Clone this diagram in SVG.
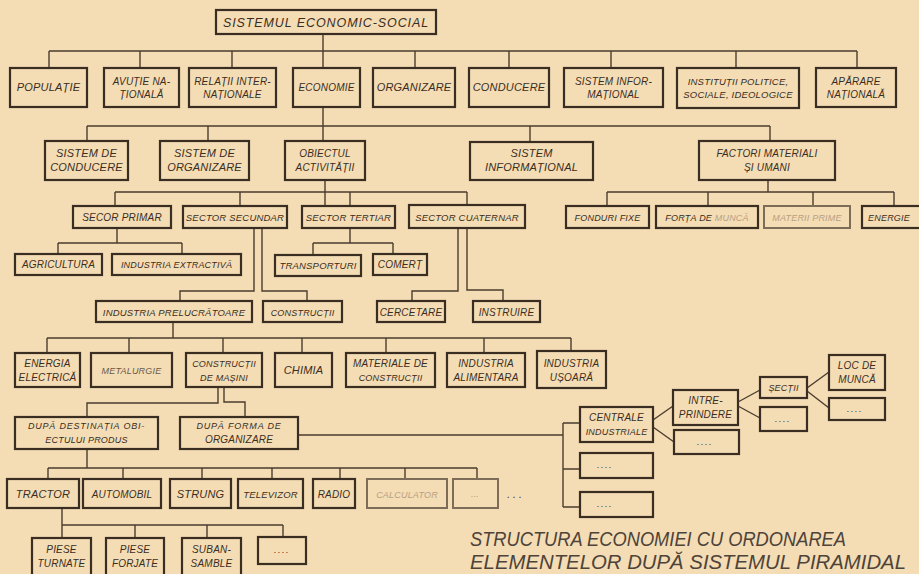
<svg xmlns="http://www.w3.org/2000/svg" width="919" height="574" viewBox="0 0 919 574">
<style>
.bg{fill:#f4dcb5}
.bx{fill:#f4dcb5;stroke:#3a2e22;stroke-width:2.2}
.fb{fill:#f4dcb5;stroke:#7d6c58;stroke-width:2}
.c{fill:none;stroke:#4a3c2e;stroke-width:1.4}
.t{font-family:"Liberation Sans",Arial,sans-serif;font-style:italic;font-size:10px;fill:#3a2e22;text-anchor:middle;letter-spacing:0.2px}
.l{font-size:11px}
.s{font-size:9px}
.m{font-size:9.5px}
.f{fill:#b7a083}
.cap{font-family:"Liberation Sans",Arial,sans-serif;font-style:italic;font-size:21px;fill:#4d4339}
</style>
<rect class="bg" x="0" y="0" width="919" height="574"/>
<g id="connectors">
<path class="c" d="M323,34V68M49,51H857M49,51V68M140,51V68M232,51V68M415,51V68M509,51V68M611,51V68M736,51V68M857,51V68"/>
<path class="c" d="M323,107V141M87,126H770M87,126V141M208,126V141M530,126V142M770,126V141"/>
<path class="c" d="M325,180V206M115,192H467M115,192V206M240,192V206M350,192V206M467,192V205"/>
<path class="c" d="M768,180V192M607,192H894M607,192V206M708,192V206M813,192V206M894,192V206"/>
<path class="c" d="M117,228V243M58,243H182M58,243V254M182,243V254"/>
<path class="c" d="M350,228V243M313,243H393M313,243V255M393,243V254"/>
<path class="c" d="M254,228V291H180V301M262,228V291H307V301"/>
<path class="c" d="M458,228V291H412V301M467,228V290H503V301"/>
<path class="c" d="M173,322V338M47,338H571M47,338V353M129,338V353M223,338V353M302,338V353M386,338V353M484,338V353M571,338V351"/>
<path class="c" d="M218,387V403H87V417M224,387V402H245V417"/>
<path class="c" d="M298,435H563M563,423V507M563,423H580M563,469H580M563,507H580"/>
<path class="c" d="M653,420L673,406M653,427L674,442M738,402L760,390M738,406L760,418M807,388L829,372M807,391L829,408"/>
<path class="c" d="M87,449V468M48,468H477M48,468V479M123,468V479M202,468V479M272,468V479M340,468V479M405,468V479M477,468V479"/>
<path class="c" d="M62,508V538M62,525H283M135,525V538M207,525V538M283,525V537"/>
</g>
<g id="n-sistemul"><rect class="bx" x="216" y="10" width="220" height="24"/><text class="t" x="326" y="27" style="font-size:12.5px;letter-spacing:0.9px">SISTEMUL ECONOMIC-SOCIAL</text></g>
<g id="n-populatie"><rect class="bx" x="10" y="68" width="77" height="39"/><text class="t l" x="48.5" y="91">POPULAȚIE</text></g>
<g id="n-avutie"><rect class="bx" x="104" y="68" width="75" height="39"/><text class="t" x="141.5" y="85">AVUȚIE NA-</text><text class="t" x="141.5" y="98">ȚIONALĂ</text></g>
<g id="n-relatii"><rect class="bx" x="189" y="68" width="87" height="39"/><text class="t" x="232.5" y="85">RELAȚII INTER-</text><text class="t" x="232.5" y="98">NAȚIONALE</text></g>
<g id="n-economie"><rect class="bx" x="293" y="68" width="67" height="39"/><text class="t" x="326.5" y="91">ECONOMIE</text></g>
<g id="n-organizare"><rect class="bx" x="373" y="68" width="82" height="39"/><text class="t l" x="414" y="91">ORGANIZARE</text></g>
<g id="n-conducere"><rect class="bx" x="469" y="68" width="80" height="39"/><text class="t l" x="509" y="91">CONDUCERE</text></g>
<g id="n-sistinfo"><rect class="bx" x="564" y="68" width="99" height="39"/><text class="t" x="613.5" y="85">SISTEM INFOR-</text><text class="t" x="613.5" y="98">MAȚIONAL</text></g>
<g id="n-institutii"><rect class="bx" x="677" y="68" width="122" height="40"/><text class="t" x="738" y="85" style="font-size:9.5px">INSTITUȚII POLITICE,</text><text class="t" x="738" y="98" style="font-size:9.5px">SOCIALE, IDEOLOGICE</text></g>
<g id="n-aparare"><rect class="bx" x="816" y="68" width="80" height="39"/><text class="t" x="856" y="85">APĂRARE</text><text class="t" x="856" y="98">NAȚIONALĂ</text></g>
<g id="n-sistcond"><rect class="bx" x="45" y="141" width="83" height="39"/><text class="t l" x="86.5" y="157">SISTEM DE</text><text class="t l" x="86.5" y="171">CONDUCERE</text></g>
<g id="n-sistorg"><rect class="bx" x="160" y="141" width="89" height="39"/><text class="t l" x="204.5" y="157">SISTEM DE</text><text class="t l" x="204.5" y="171">ORGANIZARE</text></g>
<g id="n-obiectul"><rect class="bx" x="285" y="141" width="80" height="39"/><text class="t" x="325" y="157">OBIECTUL</text><text class="t" x="325" y="171">ACTIVITĂȚII</text></g>
<g id="n-sistinf2"><rect class="bx" x="470" y="142" width="123" height="38"/><text class="t l" x="531.5" y="157">SISTEM</text><text class="t l" x="531.5" y="171">INFORMAȚIONAL</text></g>
<g id="n-factori"><rect class="bx" x="699" y="141" width="136" height="39"/><text class="t" x="767" y="157">FACTORI MATERIALI</text><text class="t" x="767" y="171">ȘI UMANI</text></g>
<g id="n-primar"><rect class="bx" x="73" y="206" width="98" height="22"/><text class="t" x="122" y="221">SECOR PRIMAR</text></g>
<g id="n-secundar"><rect class="bx" x="183" y="206" width="104" height="22"/><text class="t m" x="235" y="221">SECTOR SECUNDAR</text></g>
<g id="n-tertiar"><rect class="bx" x="302" y="206" width="93" height="22"/><text class="t m" x="348.5" y="221">SECTOR TERTIAR</text></g>
<g id="n-cuaternar"><rect class="bx" x="409" y="205" width="116" height="23"/><text class="t m" x="467" y="221">SECTOR CUATERNAR</text></g>
<g id="n-fonduri"><rect class="bx" x="566" y="206" width="83" height="22"/><text class="t s" x="607.5" y="221">FONDURI FIXE</text></g>
<g id="n-forta"><rect class="bx" x="656" y="206" width="102" height="22"/><text class="t s" x="707" y="221">FORȚA DE <tspan class="f">MUNCĂ</tspan></text></g>
<g id="n-materii"><rect class="fb" x="764" y="206" width="86" height="22"/><text class="t s f" x="807" y="221">MATERII PRIME</text></g>
<g id="n-energie"><rect class="bx" x="862" y="206" width="63" height="22"/><text class="t s" x="889" y="221">ENERGIE</text></g>
<g id="n-agricultura"><rect class="bx" x="15" y="254" width="87" height="21"/><text class="t" x="58.5" y="268">AGRICULTURA</text></g>
<g id="n-extractiva"><rect class="bx" x="112" y="254" width="129" height="21"/><text class="t s" x="176.5" y="268">INDUSTRIA EXTRACTIVĂ</text></g>
<g id="n-transporturi"><rect class="bx" x="275" y="255" width="86" height="21"/><text class="t m" x="318" y="269">TRANSPORTURI</text></g>
<g id="n-comert"><rect class="bx" x="373" y="254" width="54" height="21"/><text class="t" x="400" y="268">COMERȚ</text></g>
<g id="n-prelucratoare"><rect class="bx" x="96" y="301" width="156" height="21"/><text class="t m" x="174" y="315.5">INDUSTRIA PRELUCRĂTOARE</text></g>
<g id="n-constructii"><rect class="bx" x="263" y="301" width="79" height="21"/><text class="t s" x="302.5" y="315.5">CONSTRUCȚII</text></g>
<g id="n-cercetare"><rect class="bx" x="377" y="301" width="68" height="21"/><text class="t" x="411" y="315.5">CERCETARE</text></g>
<g id="n-instruire"><rect class="bx" x="473" y="301" width="67" height="21"/><text class="t" x="506.5" y="315.5">INSTRUIRE</text></g>
<g id="n-energia"><rect class="bx" x="15" y="353" width="65" height="34"/><text class="t" x="47.5" y="367">ENERGIA</text><text class="t" x="47.5" y="381">ELECTRICĂ</text></g>
<g id="n-metalurgie"><rect class="bx" x="91" y="353" width="81" height="34"/><text class="t s" x="131.5" y="374" style="fill:#6a5a48">METALURGIE</text></g>
<g id="n-masini"><rect class="bx" x="186" y="353" width="76" height="34"/><text class="t s" x="224" y="367">CONSTRUCȚII</text><text class="t s" x="224" y="381">DE MAȘINI</text></g>
<g id="n-chimia"><rect class="bx" x="275" y="353" width="57" height="34"/><text class="t l" x="303.5" y="374">CHIMIA</text></g>
<g id="n-materiale"><rect class="bx" x="346" y="353" width="89" height="34"/><text class="t" x="390.5" y="367">MATERIALE DE</text><text class="t s" x="390.5" y="381">CONSTRUCȚII</text></g>
<g id="n-alimentara"><rect class="bx" x="447" y="353" width="78" height="34"/><text class="t" x="486" y="367">INDUSTRIA</text><text class="t" x="486" y="381">ALIMENTARA</text></g>
<g id="n-usoara"><rect class="bx" x="537" y="351" width="69" height="37"/><text class="t" x="571.5" y="367">INDUSTRIA</text><text class="t" x="571.5" y="381">UȘOARĂ</text></g>
<g id="n-destinatia"><rect class="bx" x="15" y="417" width="143" height="32"/><text class="t s" x="86.5" y="429" style="letter-spacing:0.8px">DUPĂ DESTINAȚIA OBI-</text><text class="t s" x="86.5" y="443">ECTULUI PRODUS</text></g>
<g id="n-forma"><rect class="bx" x="180" y="417" width="118" height="32"/><text class="t s" x="239" y="429" style="letter-spacing:0.8px">DUPĂ FORMA DE</text><text class="t" x="239" y="443">ORGANIZARE</text></g>
<g id="n-tractor"><rect class="bx" x="7" y="479" width="72" height="29"/><text class="t l" x="43" y="497.5">TRACTOR</text></g>
<g id="n-automobil"><rect class="bx" x="83" y="479" width="78" height="29"/><text class="t" x="122" y="497.5">AUTOMOBIL</text></g>
<g id="n-strung"><rect class="bx" x="170" y="479" width="61" height="29"/><text class="t l" x="200.5" y="497.5">STRUNG</text></g>
<g id="n-televizor"><rect class="bx" x="238" y="479" width="65" height="29"/><text class="t m" x="270.5" y="497.5">TELEVIZOR</text></g>
<g id="n-radio"><rect class="bx" x="313" y="479" width="42" height="29"/><text class="t" x="334" y="497.5">RADIO</text></g>
<g id="n-calculator"><rect class="fb" x="367" y="479" width="80" height="29"/><text class="t s f" x="407" y="497.5">CALCULATOR</text></g>
<g id="n-dots8"><rect class="fb" x="453" y="479" width="45" height="29"/><text class="t s f" x="475" y="497">...</text></g>
<g id="n-dots8b"><text class="t" x="516" y="498" style="letter-spacing:3px">...</text></g>
<g id="n-turnate"><rect class="bx" x="32" y="538" width="59" height="42"/><text class="t" x="61.5" y="553">PIESE</text><text class="t" x="61.5" y="567">TURNATE</text></g>
<g id="n-forjate"><rect class="bx" x="106" y="538" width="58" height="42"/><text class="t" x="135" y="553">PIESE</text><text class="t" x="135" y="567">FORJATE</text></g>
<g id="n-subansamble"><rect class="bx" x="182" y="538" width="59" height="42"/><text class="t" x="211.5" y="553">SUBAN-</text><text class="t" x="211.5" y="567">SAMBLE</text></g>
<g id="n-dots9"><rect class="bx" x="258" y="537" width="48" height="27"/><text class="t s" x="282" y="553" style="letter-spacing:1.5px">....</text></g>
<g id="n-centrale"><rect class="bx" x="580" y="407" width="73" height="35"/><text class="t" x="616.5" y="421">CENTRALE</text><text class="t s" x="616.5" y="435">INDUSTRIALE</text></g>
<g id="n-dotsc1"><rect class="bx" x="580" y="453" width="73" height="25"/><text class="t s" x="605" y="468" style="letter-spacing:1.5px">....</text></g>
<g id="n-dotsc2"><rect class="bx" x="580" y="492" width="73" height="25"/><text class="t s" x="605" y="507" style="letter-spacing:1.5px">....</text></g>
<g id="n-intreprindere"><rect class="bx" x="673" y="390" width="65" height="35"/><text class="t" x="705.5" y="404">INTRE-</text><text class="t" x="705.5" y="418">PRINDERE</text></g>
<g id="n-dotsi"><rect class="bx" x="674" y="430" width="65" height="24"/><text class="t s" x="705" y="445" style="letter-spacing:1.5px">....</text></g>
<g id="n-sectii"><rect class="bx" x="760" y="377" width="47" height="21"/><text class="t s" x="783.5" y="391">ȘECȚII</text></g>
<g id="n-dotss"><rect class="bx" x="760" y="407" width="47" height="24"/><text class="t s" x="783" y="422" style="letter-spacing:1.5px">....</text></g>
<g id="n-loc"><rect class="bx" x="829" y="355" width="56" height="35"/><text class="t" x="857" y="369">LOC DE</text><text class="t" x="857" y="383">MUNCĂ</text></g>
<g id="n-dotsl"><rect class="bx" x="829" y="398" width="56" height="22"/><text class="t s" x="855" y="412" style="letter-spacing:1.5px">....</text></g>
<g id="caption">
<text class="cap" x="470" y="546" textLength="376" lengthAdjust="spacingAndGlyphs">STRUCTURA ECONOMIEI CU ORDONAREA</text>
<text class="cap" x="470" y="569" textLength="436" lengthAdjust="spacingAndGlyphs">ELEMENTELOR DUPĂ SISTEMUL PIRAMIDAL</text>
</g>
</svg>
